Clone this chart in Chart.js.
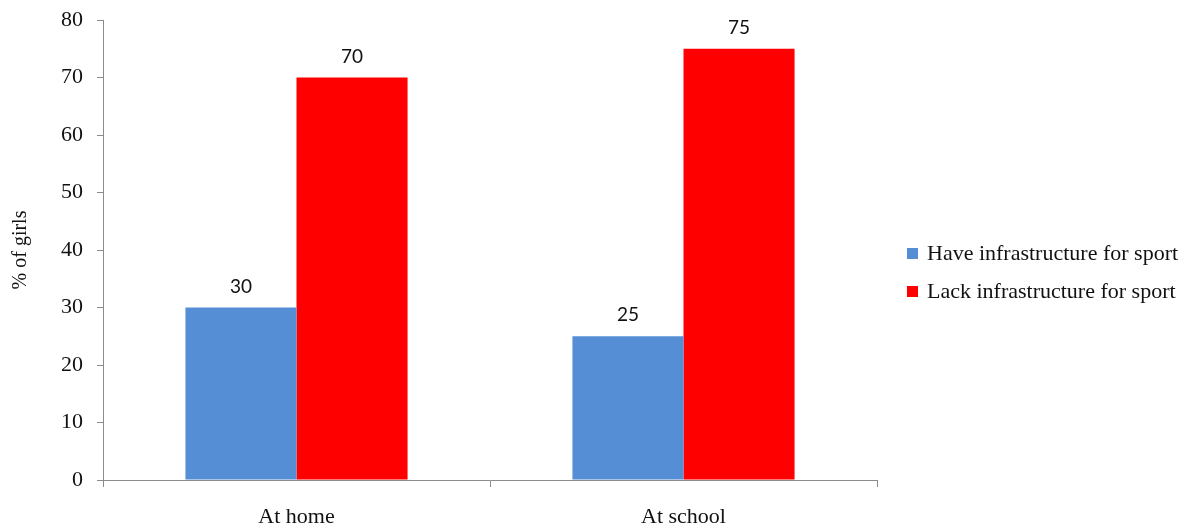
<!DOCTYPE html>
<html>
<head>
<meta charset="utf-8">
<script src="https://cdn.jsdelivr.net/npm/chart.js@4/dist/chart.umd.min.js"></script>
<style>
  html, body { margin: 0; padding: 0; background: #fff; }
  #wrap { width: 1204px; height: 527px; position: relative; }
</style>
</head>
<body>
<div id="wrap"><canvas id="c" width="1204" height="527"></canvas></div>
<script>
const categories = ["At home", "At school"];
const seriesNames = ["Have infrastructure for sport", "Lack infrastructure for sport"];
const haveValues = [30, 25];
const lackValues = [70, 75];
const seriesColors = ["#558ED5", "#FF0000"];
const yTicks = [0, 10, 20, 30, 40, 50, 60, 70, 80];
const yTitle = "% of girls";

const FONT = "'Liberation Serif', 'Times New Roman', serif";
const LABEL_FONT = "Lato, 'Liberation Sans', sans-serif";
const AXIS = "#8c8c8c";

// value labels above each bar
const valueLabels = {
  id: "valueLabels",
  afterDatasetsDraw(chart) {
    const ctx = chart.ctx;
    ctx.save();
    ctx.font = "19px " + LABEL_FONT;
    ctx.fillStyle = "#111";
    ctx.textAlign = "center";
    ctx.textBaseline = "alphabetic";
    chart.data.datasets.forEach((ds, i) => {
      chart.getDatasetMeta(i).data.forEach((bar, j) => {
        ctx.fillText(String(ds.data[j]), bar.x, bar.y - 15);
      });
    });
    ctx.restore();
  }
};

// legend drawn at the right of the plot
const sideLegend = {
  id: "sideLegend",
  afterDraw(chart) {
    const ctx = chart.ctx;
    ctx.save();
    ctx.font = "22px " + FONT;
    ctx.textBaseline = "middle";
    ctx.textAlign = "left";
    const x0 = 907, y0 = 253.5, gap = 38;
    chart.data.datasets.forEach((ds, i) => {
      const y = y0 + i * gap;
      ctx.fillStyle = ds.backgroundColor;
      ctx.fillRect(x0, y - 5.5, 11, 11);
      ctx.fillStyle = "#111";
      ctx.fillText(ds.label, x0 + 20, y + 1);
    });
    ctx.restore();
  }
};

new Chart(document.getElementById("c"), {
  type: "bar",
  data: {
    labels: categories,
    datasets: [
      { label: seriesNames[0], data: haveValues, backgroundColor: seriesColors[0] },
      { label: seriesNames[1], data: lackValues, backgroundColor: seriesColors[1] }
    ]
  },
  options: {
    responsive: false,
    animation: false,
    devicePixelRatio: 1,
    layout: { padding: { top: 20, right: 327, bottom: 0, left: 0 } },
    plugins: { legend: { display: false }, tooltip: { enabled: false } },
    datasets: { bar: { categoryPercentage: 0.574, barPercentage: 1.0 } },
    scales: {
      x: {
        offset: true,
        grid: { display: true, drawOnChartArea: false, offset: true, tickLength: 7, color: AXIS, lineWidth: 1 },
        border: { display: true, color: AXIS, width: 1 },
        ticks: { font: { family: FONT, size: 22 }, color: "#111", padding: 17 },
        afterFit(scale) { scale.height = 47; scale.paddingLeft = 0; scale.paddingRight = 0; }
      },
      y: {
        min: 0, max: 80,
        afterBuildTicks(scale) { scale.ticks = yTicks.map(v => ({ value: v })); },
        grid: { display: true, drawOnChartArea: false, tickLength: 6, color: AXIS, lineWidth: 1 },
        border: { display: true, color: AXIS, width: 1 },
        ticks: { font: { family: FONT, size: 22 }, color: "#111", padding: 14 },
        title: { display: true, text: yTitle, font: { family: FONT, size: 20 }, color: "#111", padding: { top: 9, bottom: 0 } },
        afterFit(scale) { scale.width = 103; scale.paddingTop = 0; scale.paddingBottom = 0; }
      }
    }
  },
  plugins: [valueLabels, sideLegend]
});
</script>
</body>
</html>
